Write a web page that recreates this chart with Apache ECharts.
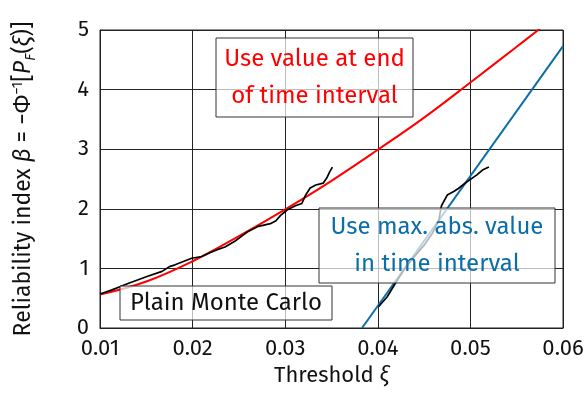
<!DOCTYPE html>
<html>
<head>
<meta charset="utf-8">
<script src="https://cdn.jsdelivr.net/npm/echarts@6/dist/echarts.min.js"></script>
<style>html,body{margin:0;padding:0;background:#fff}#c{width:587px;height:397px}</style>
</head>
<body>
<div id="c"></div>
<script>
var FONT = "'Fira Sans','Open Sans','Noto Sans',sans-serif";
var xTicks = [0.01, 0.02, 0.03, 0.04, 0.05, 0.06];
var yTicks = [0, 1, 2, 3, 4, 5];

// Red: value at end of time interval
var endX = [0.01, 0.015, 0.02, 0.025, 0.03, 0.035, 0.04, 0.045, 0.05, 0.055, 0.0575];
var endY = [0.56, 0.78, 1.12, 1.54, 1.99, 2.47, 2.99, 3.53, 4.12, 4.72, 5.02];

// Blue: max abs value in time interval
var maxX = [0.0383, 0.06];
var maxY = [0.0, 4.73];

// Black: plain Monte Carlo (end value)
var mc1X = [0.01, 0.0113, 0.0131, 0.0150, 0.0167, 0.0175, 0.0181, 0.0199, 0.0210, 0.0218, 0.0226, 0.0235, 0.0246, 0.0252, 0.0259, 0.0270, 0.0284, 0.0290, 0.0295, 0.0302, 0.0311, 0.0318, 0.0322, 0.0327, 0.0333, 0.0341, 0.0345, 0.0348, 0.0351];
var mc1Y = [0.57, 0.64, 0.75, 0.86, 0.95, 1.03, 1.06, 1.17, 1.20, 1.26, 1.31, 1.36, 1.46, 1.53, 1.61, 1.70, 1.75, 1.80, 1.89, 1.98, 2.05, 2.09, 2.23, 2.35, 2.40, 2.43, 2.52, 2.62, 2.70];

// Black: plain Monte Carlo (max abs value)
var mc2X = [0.0401, 0.0410, 0.0419, 0.0428, 0.0439, 0.0450, 0.0459, 0.0466, 0.0468, 0.0469, 0.0475, 0.0482, 0.0487, 0.0496, 0.0507, 0.0513, 0.0520];
var mc2Y = [0.36, 0.52, 0.75, 0.97, 1.19, 1.39, 1.59, 1.81, 2.00, 2.06, 2.23, 2.29, 2.34, 2.45, 2.57, 2.65, 2.70];

function pairs(xs, ys) { return xs.map(function (x, i) { return [x, ys[i]]; }); }

var chart = echarts.init(document.getElementById('c'), null, {renderer: 'canvas'});

function box(x, y, w, h, lines, color) {
  return {
    type: 'group', z: 100,
    children: [
      {type: 'rect', z: 100, shape: {x: x, y: y, width: w, height: h},
       style: {fill: 'rgba(255,255,255,0.7)', stroke: '#333', lineWidth: 1}},
      {type: 'text', z: 101, x: x + w / 2, y: y + h / 2,
       style: {text: lines, fill: color, font: '24px ' + FONT, align: 'center', verticalAlign: 'middle', lineHeight: 37}}
    ]
  };
}

var option = {
  animation: false,
  backgroundColor: '#fff',
  grid: {left: 100, right: 24, top: 30, bottom: 69, show: true, borderColor: '#222', borderWidth: 1, backgroundColor: 'transparent'},
  xAxis: {
    type: 'value', min: xTicks[0], max: xTicks[xTicks.length - 1], interval: 0.01,
    name: 'Threshold {i|ξ}', nameLocation: 'middle', nameGap: 37,
    nameTextStyle: {fontFamily: FONT, fontSize: 22, color: '#111', rich: {i: {fontFamily: FONT, fontSize: 22, fontStyle: 'italic', color: '#111'}}},
    axisLine: {show: true, lineStyle: {color: '#222', width: 1}},
    axisTick: {show: false},
    splitLine: {show: true, lineStyle: {color: '#222', width: 1}},
    axisLabel: {fontFamily: FONT, fontSize: 22, color: '#111', margin: 10,
      formatter: function (v) { return v.toFixed(2); }}
  },
  yAxis: {
    type: 'value', min: yTicks[0], max: yTicks[yTicks.length - 1], interval: 1,
    name: 'Reliability index {i|β} = −Φ{sup|−1}[{i|P}{sub|F}({i|ξ})]',
    nameLocation: 'middle', nameGap: 62, nameRotate: 90,
    nameTextStyle: {fontFamily: FONT, fontSize: 23, color: '#111', lineHeight: 28,
      rich: {
        i: {fontFamily: FONT, fontSize: 23, fontStyle: 'italic', color: '#111', lineHeight: 28},
        sup: {fontFamily: FONT, fontSize: 15, color: '#111', verticalAlign: 'top', lineHeight: 15},
        sub: {fontFamily: FONT, fontSize: 15, fontStyle: 'italic', color: '#111', verticalAlign: 'bottom', lineHeight: 15}
      }},
    axisLine: {show: true, lineStyle: {color: '#222', width: 1}},
    axisTick: {show: false},
    splitLine: {show: true, lineStyle: {color: '#222', width: 1}},
    axisLabel: {fontFamily: FONT, fontSize: 22, color: '#111', margin: 11}
  },
  series: [
    {type: 'line', data: pairs(endX, endY), smooth: 0.4, showSymbol: false, lineStyle: {color: '#ff0000', width: 2}, z: 3},
    {type: 'line', data: pairs(maxX, maxY), showSymbol: false, lineStyle: {color: '#0b6ea6', width: 2}, z: 3},
    {type: 'line', data: pairs(mc1X, mc1Y), showSymbol: false, lineStyle: {color: '#000', width: 1.7}, z: 4},
    {type: 'line', data: pairs(mc2X, mc2Y), showSymbol: false, lineStyle: {color: '#000', width: 1.7}, z: 4}
  ],
  graphic: [
    box(216, 38, 197, 79, 'Use value at end\nof time interval', '#ff0000'),
    box(319, 208, 236, 75, 'Use max. abs. value\nin time interval', '#0b6ea6'),
    box(120, 286, 212, 34, 'Plain Monte Carlo', '#111')
  ]
};
chart.setOption(option);
</script>
</body>
</html>
